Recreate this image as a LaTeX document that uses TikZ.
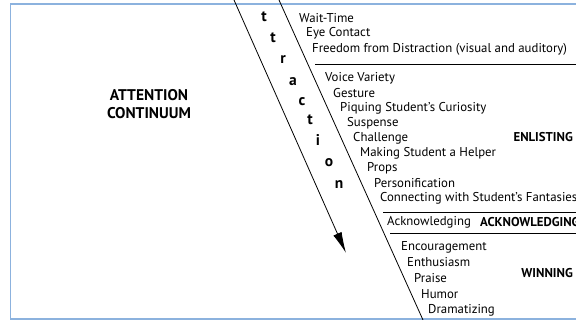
\documentclass[tikz,border=0pt]{standalone}
\usepackage{fontspec}
\setmainfont{PT Sans}
\usetikzlibrary{arrows.meta}
\definecolor{framecol}{RGB}{140,178,222}
\tikzset{
	item/.style={anchor=west,inner sep=0pt,font=\fontsize{12.8}{14}\selectfont},
	head/.style={inner sep=0pt,font=\fontsize{12.8}{14}\selectfont\bfseries},
	letter/.style={inner sep=0pt,font=\fontsize{15.5}{16}\selectfont\bfseries}
}
\begin{document}
\begin{tikzpicture}[x=1pt,y=-1pt]
	\useasboundingbox (0,0) rectangle (576,320);
	\clip (0,0) rectangle (576,320);
	\fill[white] (0,0) rectangle (576,320);
	\draw[color=framecol,line width=1.2pt] (577,4)--(10.5,4)--(10.5,319)--(577,319);
	% the two slanted lines
	\draw[color=black,thick,-{Latex[length=21pt,width=9pt]}] (234,0)--(346,253);
	\draw[color=black,thick] (279,0)--(423,320);
	\node[letter] (l1) at (264,17) {t};
	\node[letter] (l2) at (273,38) {t};
	\node[letter] (l3) at (283,60) {r};
	\node[letter] (l4) at (293,82) {a};
	\node[letter] (l5) at (302,102) {c};
	\node[letter] (l6) at (310,120) {t};
	\node[letter] (l7) at (318,140) {i};
	\node[letter] (l8) at (329,163) {o};
	\node[letter] (l9) at (339,185) {n};
	\node[head,align=center,font=\fontsize{15.5}{18}\selectfont\bfseries] (attn) at (149,104) {ATTENTION\\CONTINUUM};
	% items
	\node[item] (wait) at (299,18) {Wait-Time};
	\node[item] (eye) at (306,33) {Eye Contact};
	\node[item] (freedom) at (312,49) {Freedom from Distraction (visual and auditory)};
	\draw[thick] (315,64)--(577,64);
	\node[item] (voice) at (325,78) {Voice Variety};
	\node[item] (gesture) at (333,93) {Gesture};
	\node[item] (piquing) at (340,108) {Piquing Student's Curiosity};
	\node[item] (suspense) at (347,123) {Suspense};
	\node[item] (challenge) at (353,138) {Challenge};
	\node[item] (helper) at (360,153) {Making Student a Helper};
	\node[item] (props) at (367,168) {Props};
	\node[item] (person) at (374,183) {Personification};
	\node[item] (fantasy) at (380,198) {Connecting with Student's Fantasies};
	\draw[thick] (383,212)--(577,212);
	\node[item] (ack) at (387,222) {Acknowledging};
	\node[head,anchor=west] (ackhead) at (480,222) {ACKNOWLEDGING};
	\draw[thick] (390,233)--(577,233);
	\node[item] (encour) at (401,247) {Encouragement};
	\node[item] (enthus) at (407,262) {Enthusiasm};
	\node[item] (praise) at (414,278) {Praise};
	\node[item] (humor) at (421,294) {Humor};
	\node[item] (drama) at (428,310) {Dramatizing};
	\node[head,anchor=east] (enlist) at (573,137) {ENLISTING};
	\node[head,anchor=east] (winning) at (573,273) {WINNING};
\end{tikzpicture}
\end{document}
